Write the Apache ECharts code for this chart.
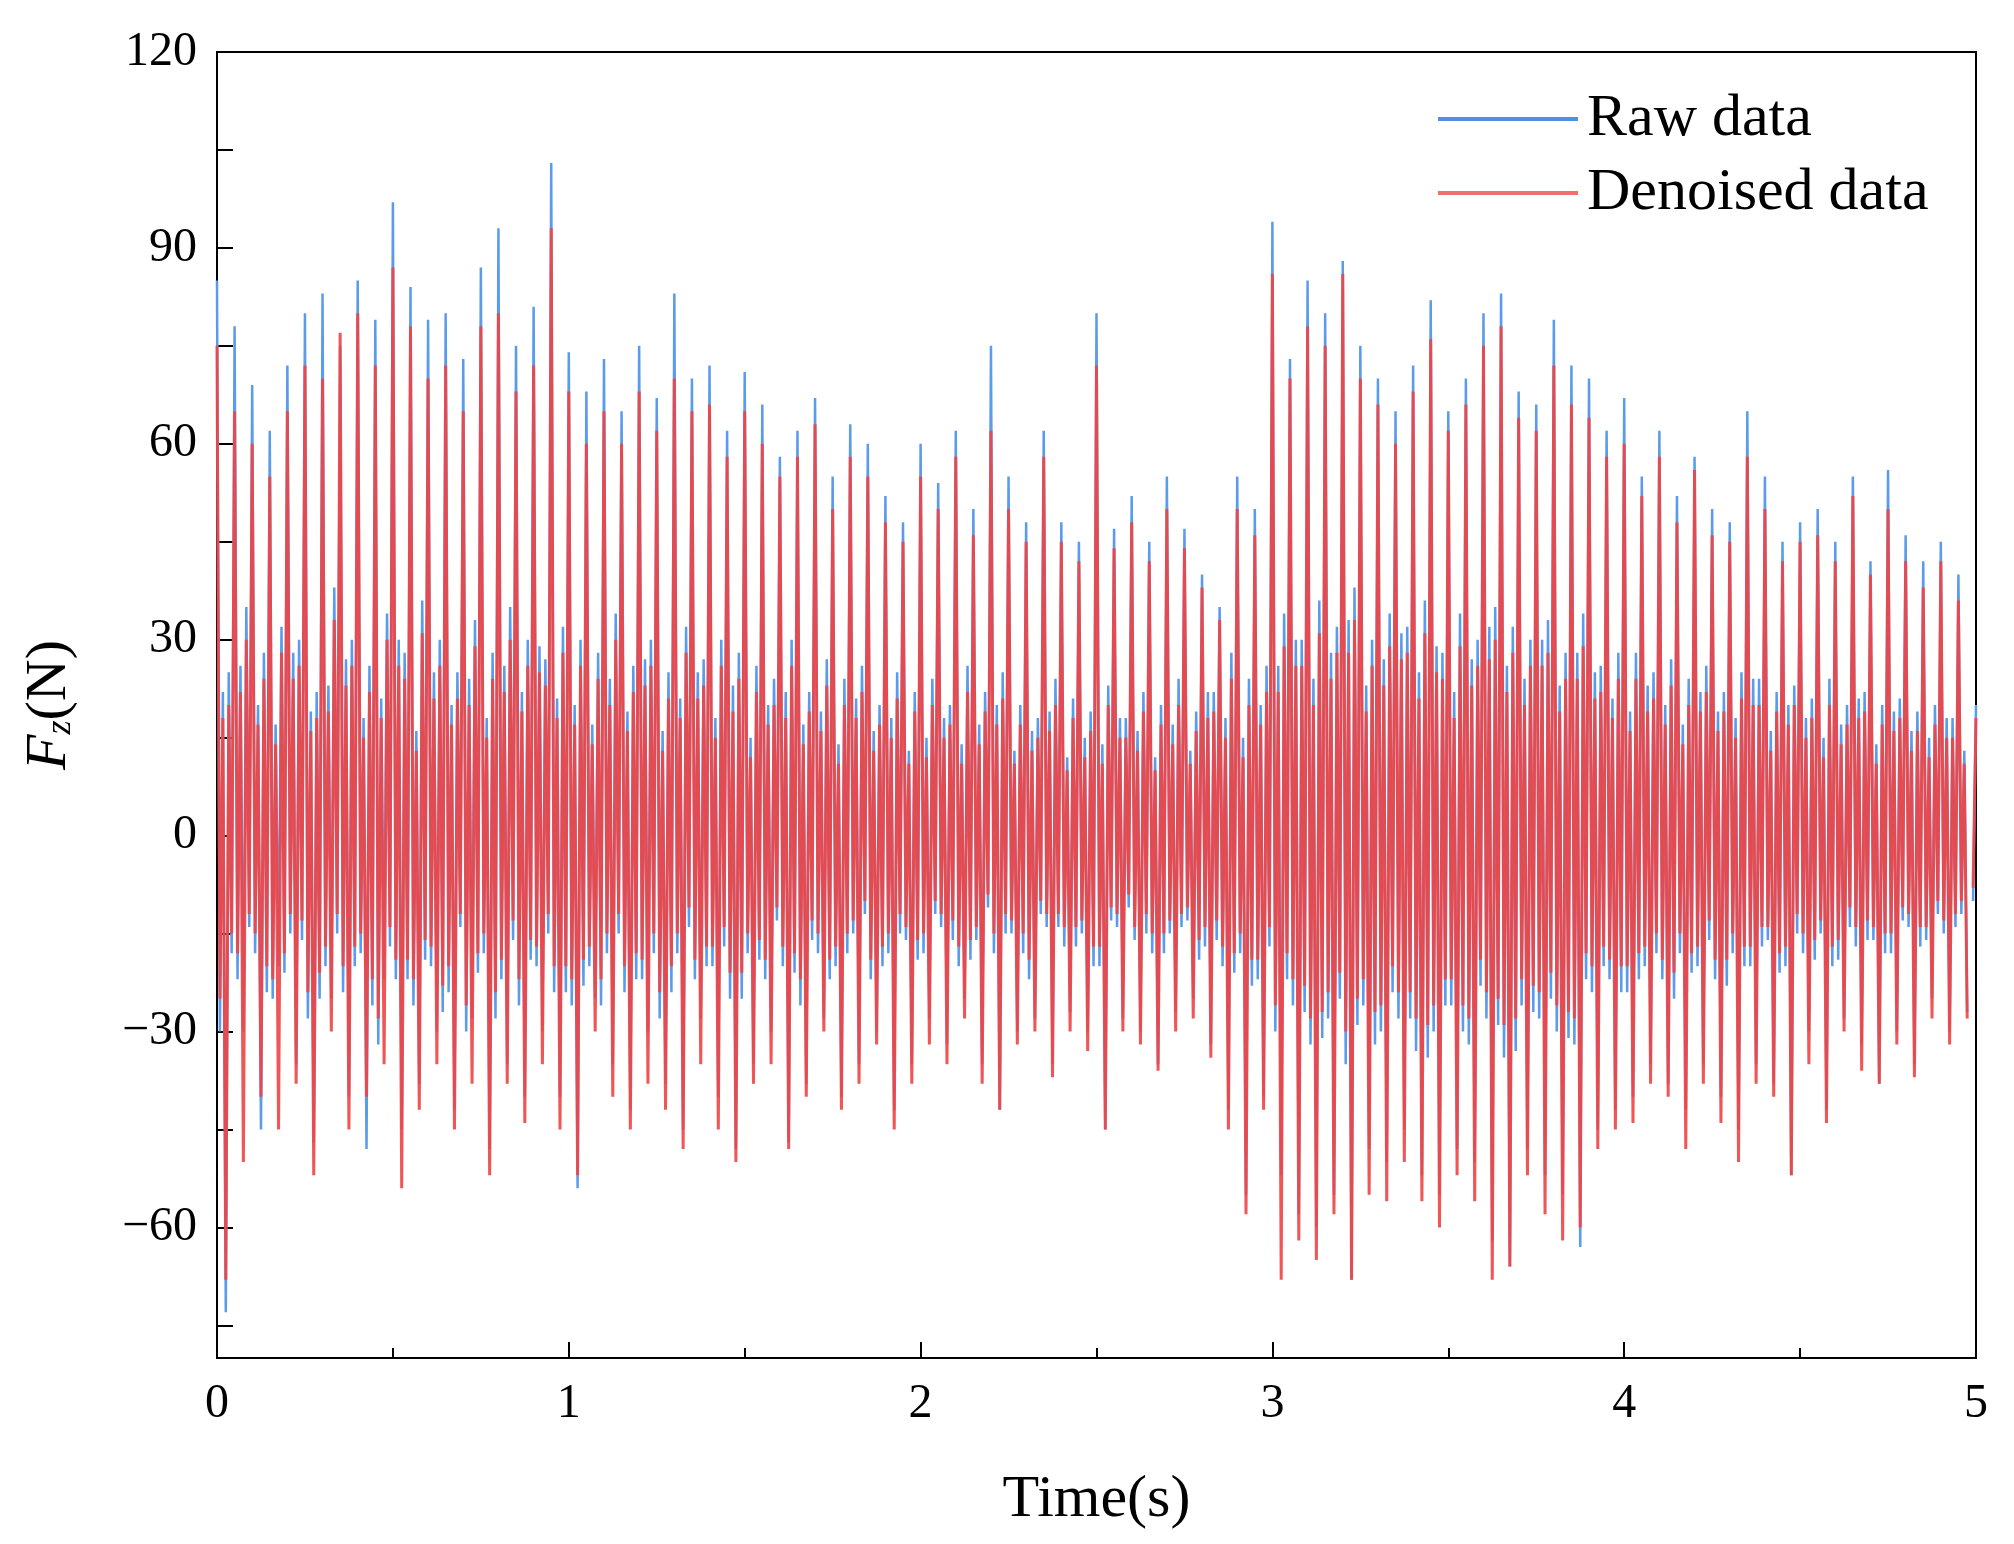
<!DOCTYPE html>
<html><head><meta charset="utf-8">
<script src="https://cdn.jsdelivr.net/npm/echarts@6/dist/echarts.min.js"></script>
<style>html,body{margin:0;padding:0;background:#fff}#c{width:2014px;height:1544px}</style>
</head><body><div id="c"></div>
<script>
const rawPeaks = [85,-73,78,-30,69,-45,62,-20,72,-35,80,-47,83,-25,75,-40,85,-48,79,-22,97,-45,84,-38,79,-30,80,-42,73,-28,87,-48,93,-35,75,-40,81,-30,103,-40,
74,-54,68,-25,73,-35,65,-42,75,-30,67,-38,83,-45,70,-28,72,-40,62,-48,71,-35,66,-30,58,-47,62,-38,67,-28,55,-40,63,-35,60,-30,52,-42,48,-35,
60,-28,54,-32,62,-25,50,-35,75,-42,55,-30,48,-28,62,-35,48,-27,45,-30,80,-45,47,-28,52,-30,45,-35,55,-27,47,-25,40,-32,35,-42,55,-55,50,-40,
94,-52,73,-58,85,-60,80,-55,88,-68,75,-48,70,-50,65,-45,72,-52,82,-55,65,-48,70,-50,80,-62,83,-66,68,-48,66,-52,79,-55,72,-63,70,-45,62,-42,
67,-40,55,-35,62,-38,52,-42,58,-35,50,-40,48,-45,65,-35,55,-38,45,-52,48,-30,50,-42,45,-28,55,-32,42,-38,56,-30,46,-35,42,-25,45,-30,40,-27,20];
const rawMidA = [-30,25,-22,35,-18,28,-25,32,-15,30,-28,22,-20,38,-24,30,-18,26,-32,34,-22,28,-26,36,-20,30,-24,25,-30,33,-18,28,-22,35,-26,30,-20,27,-24,32,
-26,30,-20,28,-18,34,-24,26,-22,30,-28,25,-18,32,-22,27,-20,30,-25,28,-18,26,-22,24,-20,30,-26,22,-18,27,-20,24,-15,26,-22,20,-18,25,-16,22,
-18,24,-14,20,-20,26,-16,22,-18,25,-15,20,-22,18,-14,24,-17,21,-15,19,-20,23,-14,18,-16,22,-18,20,-15,24,-13,19,-17,22,-20,28,-18,24,-22,26,
-30,34,-26,30,-32,36,-28,32,-35,38,-26,30,-30,34,-28,32,-33,36,-30,28,-26,34,-32,30,-28,35,-34,32,-26,30,-28,33,-30,28,-32,34,-24,26,-22,28,
-24,28,-20,25,-22,27,-18,24,-20,26,-22,22,-18,25,-20,24,-16,22,-20,23,-18,21,-15,24,-19,20,-17,22,-16,20,-18,21,-14,19,-16,20,-15,18,-12];
const rawMidB = [22,-18,26,-14,20,-24,17,-21,28,-16,19,-25,23,-15,27,-20,18,-26,21,-17,30,-22,16,-19,25,-27,20,-14,24,-21,18,-28,26,-16,22,-19,29,-15,21,-24,
20,-23,17,-26,24,-15,19,-22,27,-18,16,-24,21,-14,25,-20,18,-17,23,-25,15,-19,20,-13,22,-21,17,-16,19,-22,14,-18,21,-12,16,-20,18,-15,13,-19,
15,-12,18,-16,14,-19,17,-11,20,-15,13,-18,16,-12,19,-14,12,-17,15,-20,14,-13,18,-11,16,-15,12,-18,17,-14,13,-19,22,-16,18,-21,15,-23,20,-17,
26,-22,30,-27,24,-31,28,-25,33,-29,23,-32,27,-24,31,-28,25,-34,29,-26,22,-30,27,-23,32,-29,26,-33,24,-27,30,-25,23,-31,28,-22,25,-20,21,-24,
19,-22,23,-18,20,-25,17,-21,22,-16,19,-23,18,-20,24,-17,16,-21,20,-15,18,-19,15,-20,17,-14,21,-16,14,-18,19,-13,16,-17,15,-12,18,-14,13,-10,12];
const denoisedPeaks = [75,-68,65,-50,60,-40,55,-45,65,-38,72,-52,70,-30,77,-45,80,-40,72,-35,87,-54,78,-42,70,-35,72,-45,65,-38,78,-52,80,-38,68,-44,72,-35,93,-45,
68,-52,60,-30,65,-40,60,-45,68,-38,62,-42,70,-48,65,-35,66,-45,58,-50,65,-38,60,-35,55,-48,58,-40,63,-30,50,-42,58,-38,55,-32,48,-45,45,-38,
55,-32,50,-35,58,-28,46,-38,62,-42,50,-32,45,-30,58,-37,45,-30,42,-33,72,-45,44,-30,48,-32,42,-36,50,-30,44,-28,38,-34,33,-45,50,-58,46,-42,
86,-68,70,-62,78,-65,75,-58,86,-68,70,-55,66,-56,60,-50,68,-56,76,-60,62,-52,66,-56,75,-68,78,-66,64,-52,62,-58,72,-62,66,-60,64,-48,58,-45,
60,-44,52,-38,58,-40,48,-48,56,-38,46,-44,45,-50,58,-38,50,-40,42,-52,45,-35,46,-44,42,-30,52,-36,40,-38,50,-32,42,-37,38,-28,42,-32,36,-28,18];
const denoisedMidA = [-25,20,-18,30,-15,24,-22,28,-12,26,-24,18,-17,33,-20,26,-15,22,-28,30,-19,24,-22,31,-17,26,-20,21,-26,29,-15,24,-19,30,-22,26,-17,23,-20,28,
-22,26,-17,24,-15,30,-20,22,-19,26,-24,21,-15,28,-19,23,-17,26,-21,24,-15,22,-19,20,-17,26,-22,19,-15,23,-17,20,-13,22,-19,17,-15,21,-14,19,
-15,20,-12,17,-17,22,-14,19,-15,21,-13,17,-19,15,-12,20,-14,18,-13,16,-17,20,-12,15,-14,19,-15,17,-13,20,-11,16,-14,19,-17,24,-15,20,-19,22,
-26,29,-22,26,-28,31,-24,28,-30,33,-22,26,-26,29,-24,28,-28,31,-26,24,-22,29,-28,26,-24,30,-29,28,-22,26,-24,28,-26,24,-28,29,-20,22,-19,24,
-20,24,-17,21,-19,23,-15,20,-17,22,-19,19,-15,21,-17,20,-14,19,-17,20,-15,18,-13,20,-16,17,-14,19,-14,17,-15,18,-12,16,-14,17,-13,15,-10];
const denoisedMidB = [18,-15,22,-12,17,-20,14,-18,24,-13,16,-21,19,-12,23,-17,15,-22,18,-14,26,-19,13,-16,21,-23,17,-12,20,-18,15,-24,22,-13,19,-16,25,-12,18,-20,
17,-19,14,-22,20,-12,16,-18,23,-15,13,-20,18,-11,21,-17,15,-14,19,-21,12,-16,17,-11,18,-18,14,-13,16,-19,11,-15,18,-10,13,-17,15,-12,11,-16,
12,-10,15,-13,11,-16,14,-9,17,-12,11,-15,13,-10,16,-12,10,-14,12,-17,11,-11,15,-9,13,-12,10,-15,14,-12,11,-16,18,-13,15,-18,12,-19,17,-14,
22,-18,26,-23,20,-27,24,-21,28,-25,19,-27,23,-20,27,-24,21,-29,25,-22,18,-26,23,-19,27,-25,22,-28,20,-23,26,-21,19,-27,24,-18,21,-17,18,-20,
16,-18,19,-15,17,-21,14,-18,19,-13,16,-19,15,-17,20,-14,13,-18,17,-12,15,-16,12,-17,14,-11,18,-13,11,-15,16,-11,13,-14,12,-10,15,-12,11,-8,10];
const tStep = 0.025;
function build(peaks, a, b){ const out=[]; peaks.forEach((v,i)=>{ out.push([i*tStep, v]); if(i<peaks.length-1){ out.push([i*tStep+tStep/3, a[i]]); out.push([i*tStep+2*tStep/3, b[i]]); } }); return out; }
const yTicks = [-75,-60,-45,-30,-15,0,15,30,45,60,75,90,105,120];
const yLabels = [-60,-30,0,30,60,90,120];
const F = 'Liberation Serif';
const chart = echarts.init(document.getElementById('c'));
chart.setOption({
  animation:false,
  grid:{left:217,right:38,top:52,bottom:186,show:true,borderColor:'#000',borderWidth:2},
  legend:{left:1433,top:84,orient:'vertical',itemWidth:140,itemHeight:4,itemGap:14,
    icon:'rect',textStyle:{fontFamily:F,fontSize:60,color:'#000',padding:[0,0,0,4]},
    data:['Raw data','Denoised data']},
  xAxis:{type:'value',min:0,max:5,interval:1,
    name:'Time(s)',nameLocation:'middle',nameGap:112,nameTextStyle:{fontFamily:F,fontSize:60,color:'#000'},
    axisLine:{onZero:false,lineStyle:{color:'#000',width:2}},axisTick:{inside:true,length:16,lineStyle:{width:2,color:'#000'}},
    minorTick:{show:true,splitNumber:2,length:10,lineStyle:{color:'#000',width:2}},
    axisLabel:{fontFamily:F,fontSize:48,color:'#000',margin:22},splitLine:{show:false}},
  yAxis:{type:'value',min:-80,max:120,
    axisLabel:{fontFamily:F,fontSize:48,color:'#000',margin:20,customValues:yLabels,
      formatter:v=> v<0?'\u2212'+(-v):''+v},
    axisTick:{inside:true,length:16,customValues:yTicks,lineStyle:{width:2,color:'#000'}},
    name:'{f|F}{z|z}{n|(N)}',nameLocation:'middle',nameGap:138,nameRotate:90,
    nameTextStyle:{rich:{f:{fontFamily:F,fontSize:58,fontStyle:'italic',color:'#000'},
      z:{fontFamily:F,fontSize:36,fontStyle:'italic',color:'#000',verticalAlign:'bottom',padding:[18,0,0,0]},
      n:{fontFamily:F,fontSize:58,color:'#000'}}},
    axisLine:{show:true,onZero:false,lineStyle:{color:'#000',width:2}},
    splitLine:{show:false}},
  series:[
    {name:'Raw data',type:'line',data:build(rawPeaks,rawMidA,rawMidB),showSymbol:false,color:'#4f8fe6',lineStyle:{width:2.5,color:'#5b9bec'}},
    {name:'Denoised data',type:'line',data:build(denoisedPeaks,denoisedMidA,denoisedMidB),showSymbol:false,color:'#f07070',lineStyle:{width:3,color:'#f04444',opacity:0.9}}
  ]
});
</script></body></html>
